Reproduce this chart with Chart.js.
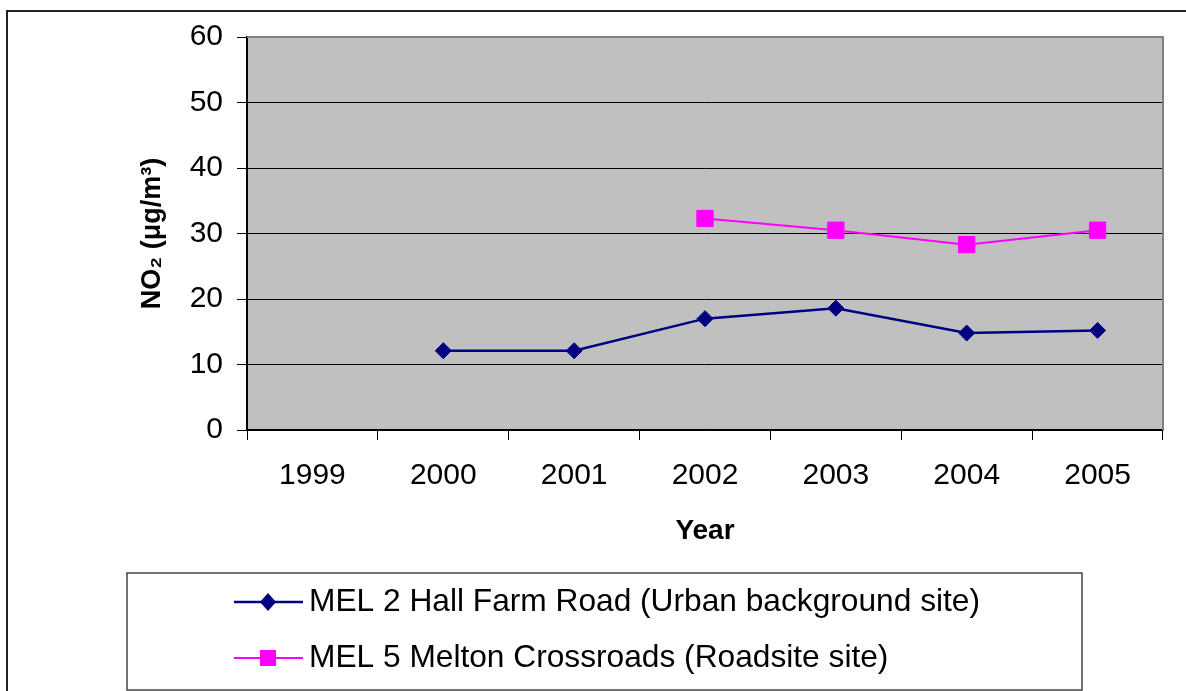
<html lang="en">
    <head>
        <meta charset="UTF-8">
        <title>NO2 Melton</title>
        <script src="https://cdn.jsdelivr.net/npm/chart.js"></script>
        <style>
            body {
                margin: 0;
                padding: 0;
                background-color: white;
            }
            canvas {
                display: block;
            }
        </style>
    </head>

    <body>
        <canvas id="no2Chart" width="1186" height="691"></canvas>

        <script>
            const years = ['1999', '2000', '2001', '2002', '2003', '2004', '2005'];
            const hallFarmRoad = [null, 12.1, 12.1, 17.0, 18.6, 14.8, 15.2];
            const meltonCrossroads = [null, null, null, 32.3, 30.5, 28.3, 30.5];
            const seriesNames = [
                'MEL 2 Hall Farm Road (Urban background site)',
                'MEL 5 Melton Crossroads (Roadsite site)'
            ];

            const FONT = '"Liberation Sans", Arial, sans-serif';

            // grey plot area, frame round the whole picture, legend box
            const frame = {
                id: 'frame',
                beforeDraw(chart) {
                    const a = chart.chartArea;
                    const ctx = chart.ctx;
                    ctx.save();
                    ctx.fillStyle = '#c0c0c0';
                    ctx.fillRect(a.left, a.top, a.right - a.left, a.bottom - a.top);
                    ctx.restore();
                },
                afterDraw(chart) {
                    const a = chart.chartArea;
                    const ctx = chart.ctx;
                    ctx.save();
                    // top and right edges of plot area
                    ctx.strokeStyle = '#808080';
                    ctx.lineWidth = 2;
                    ctx.beginPath();
                    ctx.moveTo(a.left, a.top);
                    ctx.lineTo(a.right, a.top);
                    ctx.lineTo(a.right, a.bottom);
                    ctx.stroke();

                    // outer frame
                    ctx.strokeStyle = '#222';
                    ctx.lineWidth = 2;
                    ctx.strokeRect(7, 11, 1400, 1000);

                    // legend
                    ctx.strokeStyle = '#444';
                    ctx.lineWidth = 1.5;
                    ctx.strokeRect(127, 573, 955, 117);

                    const rows = [602, 658];
                    chart.data.datasets.forEach((ds, i) => {
                        const y = rows[i];
                        ctx.strokeStyle = ds.borderColor;
                        ctx.lineWidth = ds.borderWidth;
                        ctx.beginPath();
                        ctx.moveTo(234, y);
                        ctx.lineTo(303, y);
                        ctx.stroke();
                        ctx.fillStyle = ds.pointBackgroundColor;
                        ctx.beginPath();
                        if (ds.pointStyle === 'rectRot') {
                            ctx.moveTo(268, y - 9);
                            ctx.lineTo(276, y);
                            ctx.lineTo(268, y + 9);
                            ctx.lineTo(260, y);
                            ctx.closePath();
                        } else {
                            ctx.rect(260, y - 8, 16, 16);
                        }
                        ctx.fill();
                        ctx.fillStyle = '#000';
                        ctx.font = '31.7px ' + FONT;
                        ctx.textBaseline = 'middle';
                        ctx.textAlign = 'left';
                        ctx.fillText(ds.label, 309, y);
                    });
                    ctx.restore();
                }
            };

            new Chart(document.getElementById('no2Chart').getContext('2d'), {
                type: 'line',
                data: {
                    labels: years,
                    datasets: [{
                        label: seriesNames[0],
                        data: hallFarmRoad,
                        borderColor: '#000080',
                        borderWidth: 2.5,
                        pointStyle: 'rectRot',
                        pointRadius: 8,
                        pointBackgroundColor: '#000080',
                        pointBorderColor: '#000080',
                        pointBorderWidth: 1,
                        tension: 0
                    }, {
                        label: seriesNames[1],
                        data: meltonCrossroads,
                        borderColor: '#ff00ff',
                        borderWidth: 2,
                        pointStyle: 'rect',
                        pointRadius: 11.5,
                        pointBackgroundColor: '#ff00ff',
                        pointBorderColor: '#ff00ff',
                        pointBorderWidth: 1,
                        tension: 0
                    }]
                },
                options: {
                    responsive: false,
                    animation: false,
                    layout: {
                        padding: { left: 136, top: 37, right: 23, bottom: 143 }
                    },
                    scales: {
                        x: {
                            offset: true,
                            afterFit: (scale) => { scale.height = 118; },
                            grid: {
                                offset: true,
                                drawOnChartArea: false,
                                drawTicks: true,
                                tickLength: 10,
                                color: '#000',
                                lineWidth: 1
                            },
                            border: { color: '#000', width: 1.5 },
                            ticks: {
                                color: '#000',
                                padding: 18,
                                maxRotation: 0,
                                font: { family: FONT, size: 30 }
                            },
                            title: {
                                display: true,
                                text: 'Year',
                                color: '#000',
                                padding: 0,
                                font: { family: FONT, size: 28, weight: 'bold', lineHeight: 1.2 }
                            }
                        },
                        y: {
                            min: 0,
                            max: 60,
                            afterFit: (scale) => { scale.width = 111; },
                            grid: {
                                drawTicks: true,
                                tickLength: 10,
                                color: '#000',
                                lineWidth: 1
                            },
                            border: { color: '#000', width: 2 },
                            ticks: {
                                stepSize: 10,
                                color: '#000',
                                padding: 14,
                                font: { family: FONT, size: 30 }
                            },
                            title: {
                                display: true,
                                text: 'NO\u2082 (\u03bcg/m\u00b3)',
                                color: '#000',
                                padding: 0,
                                font: { family: FONT, size: 27, weight: 'bold', lineHeight: 1.2 }
                            }
                        }
                    },
                    plugins: {
                        legend: { display: false },
                        tooltip: { enabled: false }
                    }
                },
                plugins: [frame]
            });
        </script>
    </body>
</html>
